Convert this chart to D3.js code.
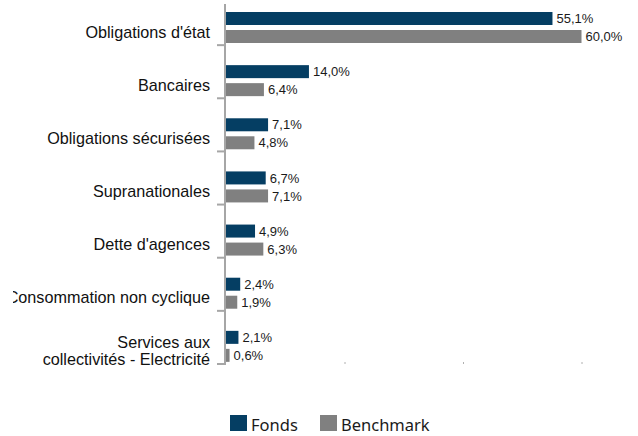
<!DOCTYPE html>
<html>
<head>
<meta charset="utf-8">
<script src="https://cdn.jsdelivr.net/npm/d3@7"></script>
<style>
  html, body { margin: 0; padding: 0; background: #fff; }
  svg { display: block; }
</style>
</head>
<body>
<svg id="chart" width="638" height="436"></svg>
<script>
const categories = [
  "Obligations d'état",
  "Bancaires",
  "Obligations sécurisées",
  "Supranationales",
  "Dette d'agences",
  "Consommation non cyclique",
  "Services aux\ncollectivités - Electricité"
];
const seriesNames = ["Fonds", "Benchmark"];
const fonds = [55.1, 14.0, 7.1, 6.7, 4.9, 2.4, 2.1];
const benchmark = [60.0, 6.4, 4.8, 7.1, 6.3, 1.9, 0.6];
const xTicks = [20, 40, 60];
const colors = { "Fonds": "#053e63", "Benchmark": "#808080" };

const svg = d3.select("#chart");
const fmt = v => v.toFixed(1).replace(".", ",") + "%";

const x = d3.scaleLinear().domain([0, 60]).range([226, 581.5]);
const y = d3.scaleBand().domain(categories).range([-8, 364]).paddingInner(0).paddingOuter(0);
const ySub = d3.scaleBand().domain(seriesNames).range([20, 51]).paddingInner(0.278).paddingOuter(0);

const data = categories.map((c, i) => ({ cat: c, values: [
  { s: "Fonds", v: fonds[i] },
  { s: "Benchmark", v: benchmark[i] }
]}));

svg.append("defs").append("clipPath").attr("id", "lblclip")
  .append("rect").attr("x", 13).attr("y", 0).attr("width", 625).attr("height", 436);

const xAxis = d3.axisBottom(x).tickValues(xTicks).tickSize(2).tickFormat("");
const gx = svg.append("g").attr("transform", "translate(0,362)").call(xAxis);
gx.select(".domain").remove();
gx.selectAll(".tick line").attr("stroke", "#b0b0b0").attr("stroke-width", 1);

const groups = svg.append("g").selectAll("g").data(data).join("g")
  .attr("transform", d => `translate(0,${y(d.cat)})`);

groups.selectAll("rect").data(d => d.values).join("rect")
  .attr("x", x(0))
  .attr("y", d => ySub(d.s))
  .attr("width", d => x(d.v) - x(0))
  .attr("height", ySub.bandwidth())
  .attr("fill", d => colors[d.s]);

groups.selectAll("text.val").data(d => d.values).join("text")
  .attr("class", "val")
  .attr("x", d => x(d.v) + 4)
  .attr("y", d => ySub(d.s) + ySub.bandwidth() / 2)
  .attr("dy", "0.36em")
  .attr("font-family", "'Liberation Sans', Arial, sans-serif")
  .attr("font-size", 13)
  .attr("fill", "#1a1a1a")
  .text(d => fmt(d.v));

svg.append("line")
  .attr("x1", 225).attr("x2", 225)
  .attr("y1", 4).attr("y2", 365)
  .attr("stroke", "#a6a6a6").attr("stroke-width", 2);

const bounds = categories.slice(1).map(c => y(c)).concat([y.range()[1]]);
svg.append("g").selectAll("line").data(bounds).join("line")
  .attr("x1", 217).attr("x2", 225)
  .attr("y1", d => d).attr("y2", d => d)
  .attr("stroke", "#a6a6a6").attr("stroke-width", 2);

const lbl = svg.append("g").attr("clip-path", "url(#lblclip)");
lbl.selectAll("text").data(categories).join("text")
  .attr("x", 210)
  .attr("y", d => y(d) + 40)
  .attr("text-anchor", "end")
  .attr("font-family", "'Liberation Sans', Arial, sans-serif")
  .attr("font-size", 16.2)
  .attr("fill", "#111")
  .each(function(d) {
    const lines = d.split("\n");
    const t = d3.select(this);
    lines.forEach((ln, i) => {
      t.append("tspan")
        .attr("x", 210)
        .attr("dy", i === 0 ? (0.35 - (lines.length - 1) * 0.5) + "em" : "1em")
        .text(ln);
    });
  });

const legendX = [230, 320];
const lg = svg.append("g").selectAll("g").data(seriesNames).join("g")
  .attr("transform", (d, i) => `translate(${legendX[i]},415)`);
lg.append("rect").attr("width", 17).attr("height", 16).attr("fill", d => colors[d]);
lg.append("text").attr("x", 21).attr("y", 16)
  .attr("font-family", "'Noto Sans', 'Open Sans', sans-serif")
  .attr("font-size", 16.5)
  .attr("fill", "#1a1a1a")
  .text(d => d);
</script>
</body>
</html>
